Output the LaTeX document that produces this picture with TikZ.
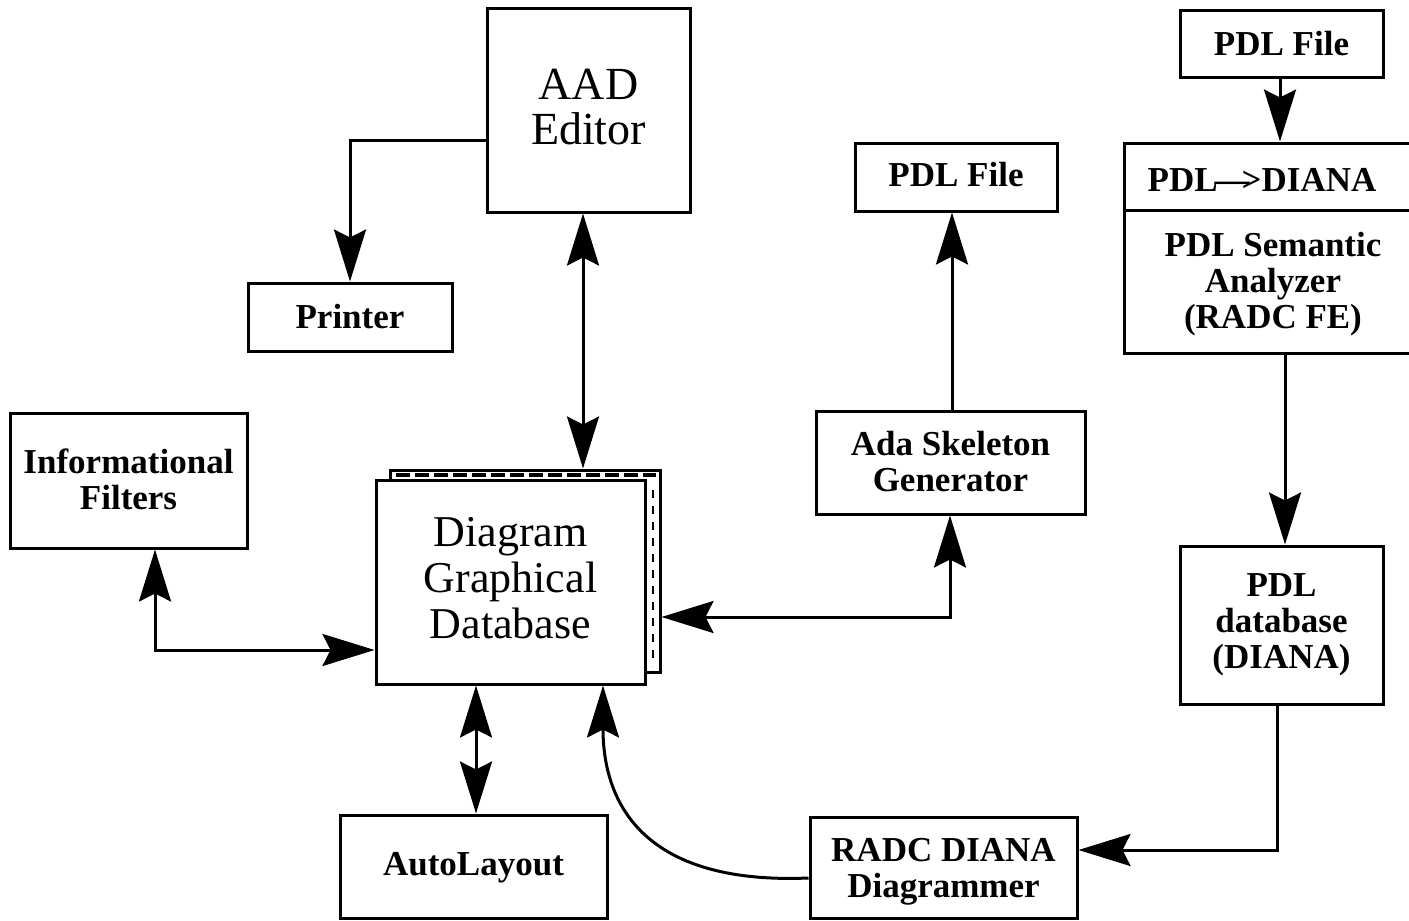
\documentclass[tikz,border=0pt]{standalone}
\usepackage{fontspec}
\setmainfont{Liberation Serif}
\usetikzlibrary{arrows.meta,fit}
\begin{document}
\begin{tikzpicture}[x=0.5pt,y=-0.5pt,line width=1.5pt,
  box/.style={draw,line width=1.5pt,inner sep=0pt},
  lbl/.style={align=center,inner sep=0pt,font=\bfseries\fontsize{17.5}{18}\selectfont},
  biglbl/.style={align=center,inner sep=0pt,font=\fontsize{23}{22.5}\selectfont},
  dblbl/.style={align=center,inner sep=0pt,font=\fontsize{22}{23}\selectfont},
  >={Stealth[length=26pt,width=16pt,inset=4pt]}]
\useasboundingbox (0,0) rectangle (1409,921);

% boxes
\node[box,fit={(487,8)(690,212)}] (aad) {};
\node[biglbl] (aadT) at ([yshift=1.5pt]aad.center) {AAD\\Editor};
\node[box,fit={(248,283)(452,351)}] (printer) {};
\node[lbl] (printerT) at (printer.center) {Printer};
\node[box,fit={(855,143)(1057,211)}] (pdlfile) {};
\node[lbl] (pdlfileT) at ([yshift=1pt]pdlfile.center) {PDL File};
\node[box,fit={(1180,10)(1383,77)}] (pdlfile2) {};
\node[lbl] (pdlfile2T) at (pdlfile2.center) {PDL File};
\node[box,fit={(10,413)(247,548)}] (filters) {};
\node[lbl] (filtersT) at ([yshift=0.5pt]filters.center) {Informational\\Filters};
\node[box,fit={(816,411)(1085,514)}] (ada) {};
\node[lbl] (adaT) at ([yshift=0.5pt]ada.center) {Ada Skeleton\\Generator};
\node[box,fit={(1180,546)(1383,704)}] (pdldb) {};
\node[lbl] (pdldbT) at (pdldb.center) {PDL\\database\\(DIANA)};
\node[box,fit={(340,815)(607,918)}] (auto) {};
\node[lbl] (autoT) at ([yshift=-0.5pt]auto.center) {AutoLayout};
\node[box,fit={(810,817)(1077,918)}] (radc) {};
\node[lbl] (radcT) at ([yshift=-2pt]radc.center) {RADC DIANA\\Diagrammer};

% front end box (runs off the right edge)
\node[box,fit={(1124,143)(1422,353)}] (fe) {};
\draw (fe.west |- 0,210) -- (fe.east |- 0,210);
\node[lbl] (fetop) at (1262,180) {PDL\kern-1.5pt—\kern-4pt>DIANA};
\node[lbl] (fetext) at (1273,284) {PDL Semantic\\Analyzer\\(RADC FE)};

% stacked database
\node[draw,inner sep=0pt,fit={(390,470)(660,672)}] (dbback) {};
\draw[line width=2.2pt,dash pattern=on 7pt off 2.5pt] (396,475) -- (656,475);
\draw[line width=0.8pt,dash pattern=on 4pt off 4pt] (653,490) -- (653,666);
\node[box,fill=white,fit={(376,480)(645,684)}] (db) {};
\node[dblbl] (dbT) at ([yshift=2pt]db.center) {Diagram\\Graphical\\Database};

% connectors
\draw[->] (aad.west |- 0,140) -| (printer.north -| 350,0);
\draw[<->] (aad.south -| 583,0) -- (dbback.north -| 583,0);
\draw[<->] (filters.south -| 155,0) |- (db.west |- 0,650);
\draw[<->] (ada.south -| 950,0) |- (dbback.east |- 0,617);
\draw[->] (ada.north -| 952,0) -- (pdlfile.south -| 952,0);
\draw[->] (pdlfile2.south -| 1280,0) -- (fe.north -| 1280,0);
\draw[->] (fe.south -| 1285,0) -- (pdldb.north -| 1285,0);
\draw[->] (pdldb.south -| 1277,0) |- (radc.east |- 0,850);
\draw[<->] (db.south -| 476,0) -- (auto.north -| 476,0);
\draw[->] (radc.west |- 0,878) .. controls (640,885) and (603,800) .. (db.south -| 603,0);
\end{tikzpicture}
\end{document}
